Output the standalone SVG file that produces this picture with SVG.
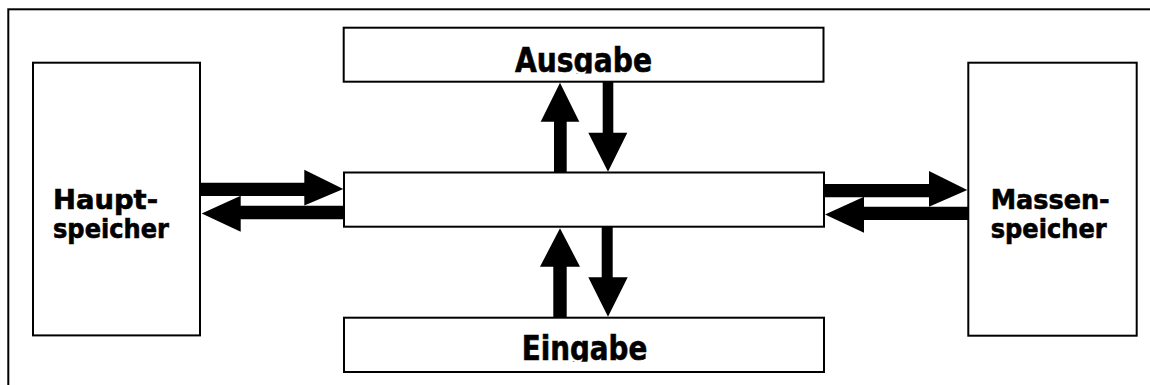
<svg xmlns="http://www.w3.org/2000/svg" width="1150" height="385" viewBox="0 0 1150 385">
  <style>
    .box { fill: #ffffff; stroke: #000000; stroke-width: 2; }
    .frame { fill: none; stroke: #000000; stroke-width: 2; }
    .arrow { fill: #000000; stroke: none; }
    .label { font-family: "DejaVu Sans", Verdana, sans-serif; font-weight: bold; fill: #000000; stroke: #000000; stroke-width: 0.6; }
    .side { font-size: 26.5px; }
    .io { font-size: 33px; }
  </style>
  <defs>
    <clipPath id="clip-ausgabe"><rect x="344" y="28" width="480" height="45.5"/></clipPath>
    <clipPath id="clip-eingabe"><rect x="344" y="318" width="480" height="43.8"/></clipPath>
  </defs>

  <rect width="1150" height="385" fill="#ffffff"/>

  <!-- outer frame, open to the right and bottom -->
  <rect id="frame" class="frame" x="8.3" y="9.3" width="1300" height="500"/>

  <g id="node-hauptspeicher">
    <rect class="box" x="33" y="62.7" width="167" height="272.7"/>
    <text class="label side" x="53" y="208.5" textLength="105" lengthAdjust="spacingAndGlyphs">Haupt-</text>
    <text class="label side" x="53" y="237.5" textLength="116" lengthAdjust="spacingAndGlyphs">speicher</text>
  </g>

  <g id="node-massenspeicher">
    <rect class="box" x="968.3" y="62.7" width="168.4" height="273"/>
    <text class="label side" x="990.7" y="209" textLength="119" lengthAdjust="spacingAndGlyphs">Massen-</text>
    <text class="label side" x="990.7" y="237.5" textLength="116" lengthAdjust="spacingAndGlyphs">speicher</text>
  </g>

  <g id="node-ausgabe">
    <rect class="box" x="343.7" y="27.7" width="479.8" height="54"/>
    <text class="label io" x="515" y="72" textLength="137" lengthAdjust="spacingAndGlyphs" clip-path="url(#clip-ausgabe)">Ausgabe</text>
  </g>

  <g id="node-eingabe">
    <rect class="box" x="344" y="317.7" width="480" height="54.3"/>
    <text class="label io" x="521.7" y="360" textLength="125.6" lengthAdjust="spacingAndGlyphs" clip-path="url(#clip-eingabe)">Eingabe</text>
  </g>

  <g id="node-zentrale">
    <rect class="box" x="344" y="172.5" width="480" height="54.2"/>
  </g>

  <g id="connectors">
    <!-- Hauptspeicher <-> centre -->
    <polygon class="arrow" points="200,182.7 304.3,182.7 304.3,169.8 343.3,189 304.3,205.5 304.3,196 200,196"/>
    <polygon class="arrow" points="343.5,205.7 240.7,205.7 240.7,195.7 201.7,213.5 240.7,231.7 240.7,219.3 343.5,219.3"/>
    <!-- centre <-> Massenspeicher -->
    <polygon class="arrow" points="824,184 929,184 929,171 967.3,190 929,206.7 929,197.3 824,197.3"/>
    <polygon class="arrow" points="968,206.7 864,206.7 864,196.7 825,214.5 864,232.7 864,220 968,220"/>
    <!-- centre <-> Ausgabe -->
    <polygon class="arrow" points="554,172.5 554,121.7 540.7,121.7 560,82.7 579.3,121.7 566.7,121.7 566.7,172.5"/>
    <polygon class="arrow" points="602.7,81.7 613.3,81.7 613.3,132.7 627.3,132.7 608,171.7 588.3,132.7 602.7,132.7"/>
    <!-- Eingabe <-> centre -->
    <polygon class="arrow" points="553.3,317.7 553.3,266.7 540,266.7 560,228.3 580,266.7 566.7,266.7 566.7,317.7"/>
    <polygon class="arrow" points="601.7,226.7 612.7,226.7 612.7,277.3 627.7,277.3 608,316.7 588.3,277.3 601.7,277.3"/>
  </g>
</svg>
